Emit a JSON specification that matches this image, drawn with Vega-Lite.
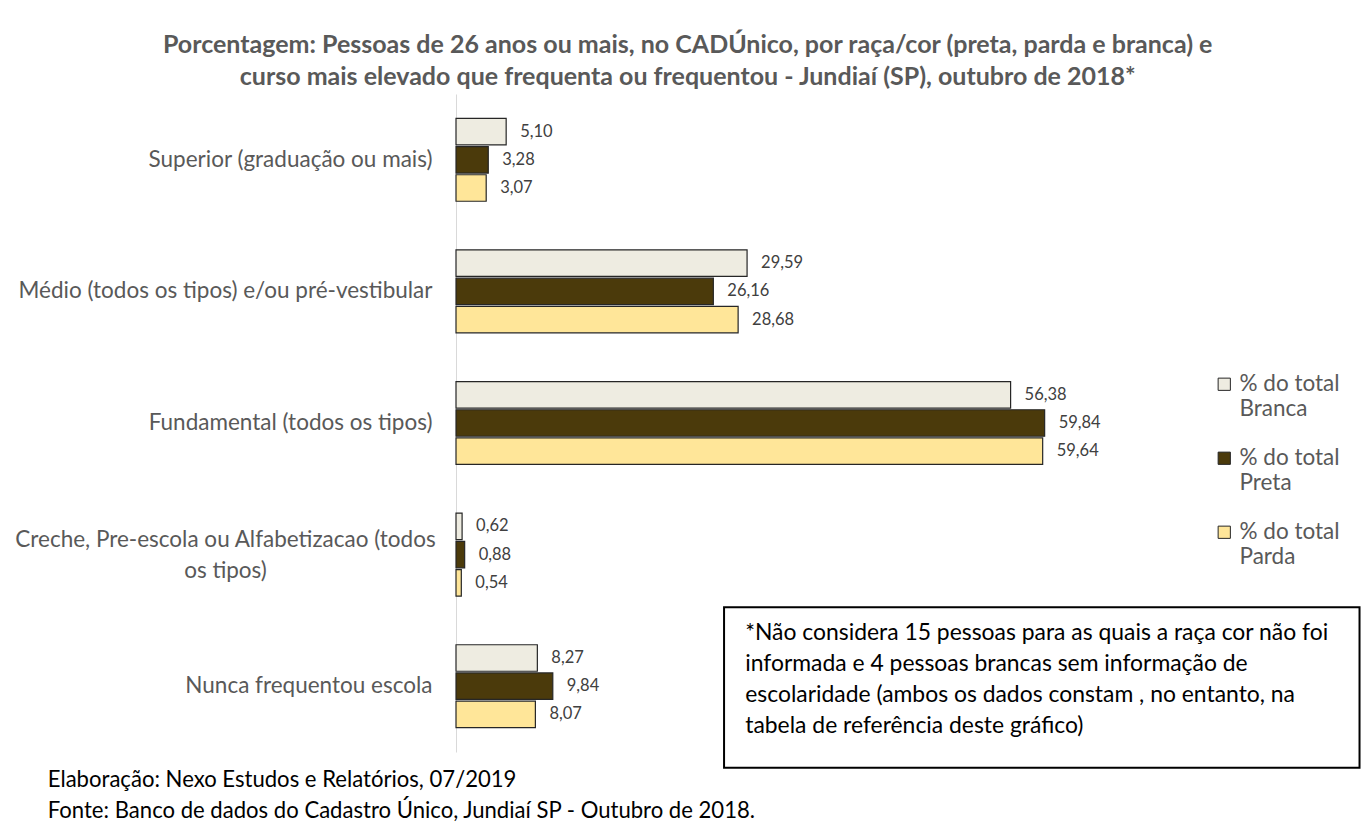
{
  "$schema": "https://vega.github.io/schema/vega-lite/v6.json",
  "width": 905,
  "height": 658,
  "autosize": {"type": "none"},
  "padding": {"left": 456, "top": 94, "right": 1, "bottom": 84},
  "background": "white",
  "title": {
    "text": ["Porcentagem: Pessoas de 26 anos ou mais, no CADÚnico, por raça/cor (preta, parda e branca) e", "curso mais elevado que frequenta ou frequentou - Jundiaí (SP), outubro de 2018*"],
    "anchor": "middle",
    "frame": "bounds",
    "font": "Lato",
    "fontSize": 25,
    "fontWeight": "bold",
    "color": "#595959",
    "lineHeight": 32,
    "offset": 4
  },
  "config": {
    "view": {"stroke": null},
    "locale": {"number": {"decimal": ",", "thousands": ".", "grouping": [3], "currency": ["R$", ""]}}
  },
  "resolve": {"scale": {"y": "independent"}},
  "layer": [
    {
      "data": {
        "values": [
          {"curso": "Superior (graduação ou mais)", "grupo": "Branca", "valor": 5.10},
          {"curso": "Superior (graduação ou mais)", "grupo": "Preta", "valor": 3.28},
          {"curso": "Superior (graduação ou mais)", "grupo": "Parda", "valor": 3.07},
          {"curso": "Médio (todos os tipos) e/ou pré-vestibular", "grupo": "Branca", "valor": 29.59},
          {"curso": "Médio (todos os tipos) e/ou pré-vestibular", "grupo": "Preta", "valor": 26.16},
          {"curso": "Médio (todos os tipos) e/ou pré-vestibular", "grupo": "Parda", "valor": 28.68},
          {"curso": "Fundamental (todos os tipos)", "grupo": "Branca", "valor": 56.38},
          {"curso": "Fundamental (todos os tipos)", "grupo": "Preta", "valor": 59.84},
          {"curso": "Fundamental (todos os tipos)", "grupo": "Parda", "valor": 59.64},
          {"curso": "Creche, Pre-escola ou Alfabetizacao (todos os tipos)", "grupo": "Branca", "valor": 0.62},
          {"curso": "Creche, Pre-escola ou Alfabetizacao (todos os tipos)", "grupo": "Preta", "valor": 0.88},
          {"curso": "Creche, Pre-escola ou Alfabetizacao (todos os tipos)", "grupo": "Parda", "valor": 0.54},
          {"curso": "Nunca frequentou escola", "grupo": "Branca", "valor": 8.27},
          {"curso": "Nunca frequentou escola", "grupo": "Preta", "valor": 9.84},
          {"curso": "Nunca frequentou escola", "grupo": "Parda", "valor": 8.07}
        ]
      },
      "encoding": {
        "y": {
          "field": "curso",
          "type": "nominal",
          "sort": ["Superior (graduação ou mais)", "Médio (todos os tipos) e/ou pré-vestibular", "Fundamental (todos os tipos)", "Creche, Pre-escola ou Alfabetizacao (todos os tipos)", "Nunca frequentou escola"],
          "scale": {"paddingInner": 0.37, "paddingOuter": 0.185},
          "axis": {
            "title": null,
            "ticks": false,
            "domainColor": "#D9D9D9",
            "domainWidth": 1,
            "labelPadding": {"condition": {"test": "datum.value == 'Creche, Pre-escola ou Alfabetizacao (todos os tipos)'", "value": 231}, "value": 24},
            "labelAlign": {"condition": {"test": "datum.value == 'Creche, Pre-escola ou Alfabetizacao (todos os tipos)'", "value": "center"}, "value": "right"},
            "labelOffset": {"condition": {"test": "datum.value == 'Creche, Pre-escola ou Alfabetizacao (todos os tipos)'", "value": -15}, "value": 0},
            "labelFont": "Lato",
            "labelFontSize": 22.5,
            "labelColor": "#595959",
            "labelLimit": 600,
            "labelLineHeight": 31,
            "labelExpr": "datum.value == 'Creche, Pre-escola ou Alfabetizacao (todos os tipos)' ? ['Creche, Pre-escola ou Alfabetizacao (todos', 'os tipos)'] : datum.value"
          }
        },
        "yOffset": {"field": "grupo", "type": "nominal", "sort": ["Branca", "Preta", "Parda"], "scale": {"paddingInner": 0.06}},
        "x": {"field": "valor", "type": "quantitative", "scale": {"domain": [0, 92], "nice": false}, "axis": null}
      },
      "layer": [
        {
          "mark": {"type": "bar", "stroke": "#262626", "strokeWidth": 1.2},
          "encoding": {
            "color": {
              "field": "grupo",
              "type": "nominal",
              "sort": ["Branca", "Preta", "Parda"],
              "scale": {"domain": ["Branca", "Preta", "Parda"], "range": ["#EEECE1", "#4B3A0B", "#FFE699"]},
              "legend": {
                "orient": "none",
                "legendX": 757,
                "legendY": 279,
                "title": null,
                "symbolType": "square",
                "symbolSize": 150,
                "symbolStrokeColor": "#262626",
                "symbolStrokeWidth": 1,
                "labelFont": "Lato",
                "labelFontSize": 22.5,
                "labelColor": "#595959",
                "labelLimit": 300,
                "labelOffset": 4,
                "rowPadding": 26,
                "labelExpr": "[datum.label == 'Parda' ? '%  do total' : '% do total', datum.label]"
              }
            }
          }
        },
        {
          "mark": {"type": "text", "align": "left", "baseline": "middle", "dx": 14, "font": "Lato", "fontSize": 16.5, "color": "#404040"},
          "encoding": {"text": {"field": "valor", "type": "quantitative", "format": ".2f"}}
        }
      ]
    },
    {
      "data": {"values": [{"nota": "*Não considera 15 pessoas para as quais a raça cor não foi\ninformada e 4 pessoas brancas sem informação de\nescolaridade (ambos os dados constam , no entanto, na\ntabela de referência deste gráfico)", "fonte": "Elaboração: Nexo Estudos e Relatórios, 07/2019\nFonte: Banco de dados do Cadastro Único, Jundiaí SP - Outubro de 2018."}]},
      "layer": [
        {
          "mark": {"type": "rect", "fill": "transparent", "stroke": "#000000", "strokeWidth": 2},
          "encoding": {
            "x": {"datum": 27.25, "type": "quantitative"},
            "x2": {"datum": 91.85},
            "y": {"datum": 3.9, "type": "quantitative", "scale": {"domain": [0, 5], "reverse": true, "nice": false, "zero": false}, "axis": null},
            "y2": {"datum": 5.12}
          }
        },
        {
          "mark": {"type": "text", "align": "left", "baseline": "top", "font": "Lato", "fontSize": 22.9, "lineHeight": 31, "color": "#000000", "lineBreak": "\n"},
          "encoding": {
            "text": {"field": "nota"},
            "x": {"datum": 29.4, "type": "quantitative"},
            "y": {"datum": 4.015, "type": "quantitative"}
          }
        },
        {
          "mark": {"type": "text", "align": "left", "baseline": "top", "font": "Lato", "fontSize": 22.1, "lineHeight": 31, "color": "#000000", "lineBreak": "\n"},
          "encoding": {
            "text": {"field": "fonte"},
            "x": {"datum": -41.5, "type": "quantitative"},
            "y": {"datum": 5.135, "type": "quantitative"}
          }
        }
      ]
    }
  ]
}
